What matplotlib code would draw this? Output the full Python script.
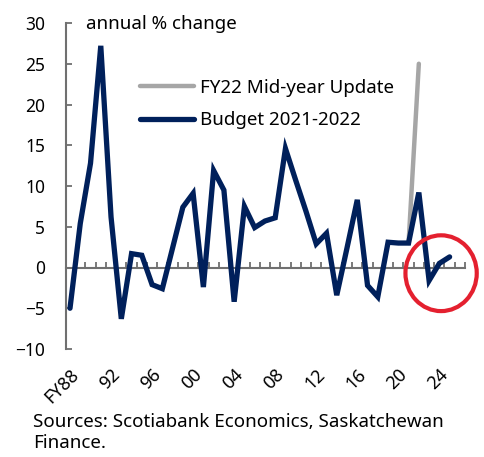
import matplotlib.pyplot as plt
import numpy as np
from matplotlib.patches import Ellipse

# Saskatchewan revenue growth, annual % change
years = np.arange(1988, 2026)
budget = [-5.0, 5.4, 12.8, 27.2, 6.2, -6.3, 1.7, 1.5, -2.1, -2.6,
          2.4, 7.4, 9.1, -2.4, 11.9, 9.5, -4.2, 7.5, 4.9, 5.7,
          6.1, 14.6, 10.7, 6.9, 2.9, 4.2, -3.4, 2.4, 8.3, -2.2,
          -3.6, 3.1, 3.0, 3.0, 9.2, -1.6, 0.5, 1.3]
midyear_years = [2021, 2022]
midyear = [3.0, 25.0]

label_years = [1988, 1992, 1996, 2000, 2004, 2008, 2012, 2016, 2020, 2024]
label_text = ["FY88", "92", "96", "00", "04", "08", "12", "16", "20", "24"]

plt.rcParams["font.family"] = ["Noto Sans", "DejaVu Sans"]
navy = "#00205B"
grey = "#A6A6A6"
axis_grey = "#707070"

fig = plt.figure(figsize=(4.84, 4.57), dpi=100)
ax = fig.add_axes([66 / 484, 1 - 349 / 457, (465 - 66) / 484, (349 - 23) / 457])

ax.plot(midyear_years, midyear, color=grey, linewidth=3.2,
        solid_capstyle="round", label="FY22 Mid-year Update", zorder=2)
ax.plot(years, budget, color=navy, linewidth=3.8, solid_capstyle="round",
        solid_joinstyle="miter", label="Budget 2021-2022", zorder=3)

ax.set_xlim(1987.61, 2026.5)
ax.set_ylim(-10, 30)

for s in ["top", "right"]:
    ax.spines[s].set_visible(False)
ax.spines["bottom"].set_position(("data", 0))
for s in ["bottom", "left"]:
    ax.spines[s].set_color(axis_grey)
    ax.spines[s].set_linewidth(1.5)

ax.set_xticks(np.arange(1988.5, 2027, 1.0))
ax.tick_params(axis="x", direction="in", length=4.5, width=1.3,
               color=axis_grey, labelbottom=False)
ax.set_yticks(np.arange(-10, 31, 5))
ax.tick_params(axis="y", direction="in", length=4.3, width=1.3,
               color=axis_grey, labelsize=12.5, pad=15)

sec = ax.secondary_xaxis("bottom")
sec.spines["bottom"].set_visible(False)
sec.set_xticks(label_years)
sec.set_xticklabels(label_text, rotation=45, ha="right", va="top",
                    rotation_mode="anchor", fontsize=13)
sec.tick_params(axis="x", length=0, pad=12)

circle = Ellipse((2024.17, -0.7), 6.95, 9.3, fill=False,
                 edgecolor="#E4202F", linewidth=3, clip_on=False, zorder=4)
ax.add_patch(circle)

fig.text(86 / 484, 1 - 24 / 457, "annual % change", fontsize=13.5,
         va="center", ha="left")

ax.legend(loc="upper left", bbox_to_anchor=(140 / 484, 1 - 79 / 457),
          bbox_transform=fig.transFigure, frameon=False, fontsize=13.5,
          handlelength=2.9, handletextpad=0.3, labelspacing=0.75,
          borderpad=0, borderaxespad=0)

fig.text(33 / 484, 1 - 413 / 457,
         "Sources: Scotiabank Economics, Saskatchewan\nFinance.",
         fontsize=13.5, va="top", ha="left", linespacing=1.22)

fig.savefig("out.png", dpi=100)
